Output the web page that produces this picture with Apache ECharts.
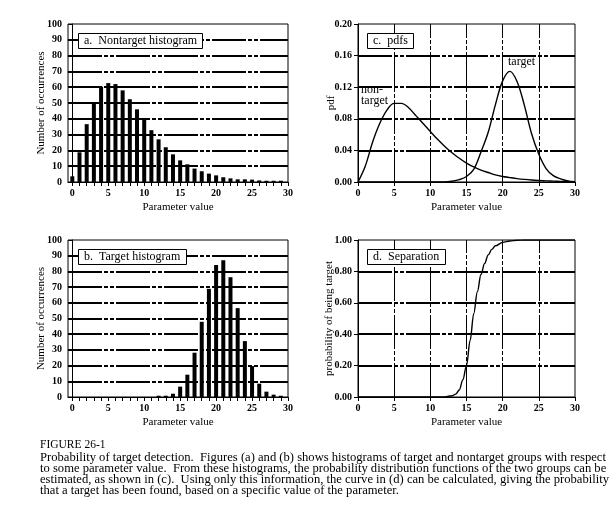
<!DOCTYPE html>
<html>
<head>
<meta charset="utf-8">
<script src="https://cdn.jsdelivr.net/npm/echarts@6/dist/echarts.min.js"></script>
<style>
html,body{margin:0;padding:0;background:#fff;}
#chart{width:615px;height:521px;}
</style>
</head>
<body>
<div id="chart"></div>
<script>
// ---- data ----
const binValues = [0,1,2,3,4,5,6,7,8,9,10,11,12,13,14,15,16,17,18,19,20,21,22,23,24,25,26,27,28,29];
const nontargetCounts = [3.6,18.8,36.6,50.3,60.3,62.6,62,58,52.4,46,40.2,32.8,27,22,17.5,13.7,11.2,8.5,6.8,5.3,4.2,3,2.3,1.7,1.7,1.5,1,0.8,0.8,0.8];
const targetCounts = [0,0,0,0,0,0,0,0,0,0,0,0,0.8,0.8,2.1,6.6,14.2,28.2,47.9,68.9,84.1,87.1,76.3,56.6,35.6,19.7,8.5,3.4,1.5,0.8];
const pdfX = [0,1,2,3,4,5,6,7,8,9,10,11,12,13,14,15,16,17,18,19,20,21,22,23,24,25,26,27,28,29,30];
const nontargetPdf = [0,0.020,0.050,0.074,0.091,0.0995,0.0995,0.094,0.084,0.074,0.064,0.054,0.045,0.037,0.030,0.024,0.019,0.015,0.012,0.009,0.007,0.0056,0.0043,0.0033,0.0025,0.0019,0.0014,0.0011,0.0008,0.0006,0.0004];
const targetPdf = [0,0,0,0,0,0,0,0,0,0,0,0,0,0.001,0.003,0.007,0.016,0.038,0.063,0.098,0.128,0.140,0.127,0.097,0.061,0.035,0.017,0.008,0.004,0.0015,0.0005];
const sepX = [0,5,10,11,12,13,13.5,14,14.5,15,15.5,16,16.5,17,17.5,18,18.5,19,20,21,22,23,25,30];
const sepProb = [0,0,0,0,0.001,0.008,0.018,0.045,0.11,0.20,0.36,0.53,0.67,0.78,0.85,0.905,0.94,0.963,0.985,0.994,0.998,1,1,1];
const histXLabels = [0,5,10,15,20,25,30];
const histXTicks = [0,1,2,3,4,5,6,7,8,9,10,11,12,13,14,15,16,17,18,19,20,21,22,23,24,25,26,27,28,29,30];
const countGridLines = [10,20,30,40,50,60,70,80,90];
const pdfGridLines = [0.04,0.08,0.12,0.16];
const sepGridLines = [0.2,0.4,0.6,0.8];
const paramGridLines = [5,10,15,20,25];

// ---- styling helpers ----
const FF = 'Liberation Serif';
const dashPattern = [34,2,4,2,4,2];
function hLines(vals){
  return {silent:true, symbol:['none','none'], animation:false, label:{show:false},
    lineStyle:{color:'#000', width:2, type:dashPattern, opacity:1},
    emphasis:{disabled:true},
    data: vals.map(v=>({yAxis:v}))};
}
function vLines(vals){
  return {silent:true, symbol:['none','none'], animation:false, label:{show:false},
    lineStyle:{color:'#000', width:1, type:dashPattern, opacity:1},
    emphasis:{disabled:true},
    data: vals.map(v=>({xAxis:v}))};
}
function panelTitle(text, left, top){
  return {text:text, left:left, top:top, padding:[1,6,1,6], backgroundColor:'#fff',
    borderColor:'#000', borderWidth:1,
    textStyle:{fontFamily:FF, fontSize:12, fontWeight:'normal', color:'#000', lineHeight:14}};
}
const labelStyle = {fontFamily:FF, fontSize:10, fontWeight:'bold', color:'#000', margin:6};
const nameStyle = {fontFamily:FF, fontSize:11, color:'#000'};
function xAxisHist(gi){
  return {gridIndex:gi, type:'value', min:-0.6, max:30,
    name:'Parameter value', nameLocation:'middle', nameGap:20, nameMoveOverlap:false, nameTextStyle:nameStyle,
    axisLine:{show:true, lineStyle:{color:'#000', width:1}},
    axisTick:{show:true, inside:false, length:4, customValues:histXTicks, lineStyle:{color:'#000'}},
    axisLabel:Object.assign({customValues:histXLabels}, labelStyle),
    splitLine:{show:false}};
}
function xAxisParam(gi){
  return {gridIndex:gi, type:'value', min:0, max:30, interval:5,
    name:'Parameter value', nameLocation:'middle', nameGap:20, nameMoveOverlap:false, nameTextStyle:nameStyle,
    axisLine:{show:true, lineStyle:{color:'#000', width:1}},
    axisTick:{show:true, length:4, lineStyle:{color:'#000'}},
    axisLabel:labelStyle, splitLine:{show:false}};
}
function yAxis(gi, max, interval, name, gap, dec){
  return {gridIndex:gi, type:'value', min:0, max:max, interval:interval,
    name:name, nameLocation:'middle', nameGap:gap, nameMoveOverlap:false, nameTextStyle:nameStyle,
    axisLine:{show:true, lineStyle:{color:'#000', width:1}},
    axisTick:{show:true, length:4, lineStyle:{color:'#000'}},
    axisLabel:Object.assign({formatter: v => dec ? v.toFixed(dec) : String(v)}, labelStyle),
    splitLine:{show:false}};
}
const gridBase = {show:true, borderColor:'#000', borderWidth:1, backgroundColor:'transparent', containLabel:false};

const chart = echarts.init(document.getElementById('chart'), null, {renderer:'canvas'});
chart.setOption({
  animation:false,
  backgroundColor:'#fff',
  title:[
    panelTitle('a.  Nontarget histogram', 78, 33),
    panelTitle('c.  pdfs', 367, 33),
    panelTitle('b.  Target histogram', 78, 249),
    panelTitle('d.  Separation', 367, 249)
  ],
  grid:[
    Object.assign({left:68, top:24, width:220, height:158}, gridBase),
    Object.assign({left:358, top:24, width:217, height:158}, gridBase),
    Object.assign({left:68, top:240, width:220, height:157}, gridBase),
    Object.assign({left:358, top:240, width:217, height:157}, gridBase)
  ],
  xAxis:[xAxisHist(0), xAxisParam(1), xAxisHist(2), xAxisParam(3)],
  yAxis:[
    yAxis(0, 100, 10, 'Number of occurrences', 21, 0),
    yAxis(1, 0.2, 0.04, 'pdf', 21, 2),
    yAxis(2, 100, 10, 'Number of occurrences', 21, 0),
    yAxis(3, 1, 0.2, 'probability of being target', 23, 2)
  ],
  series:[
    {type:'bar', xAxisIndex:0, yAxisIndex:0, barWidth:4, itemStyle:{color:'#000'},
      data: binValues.map((x,i)=>[x, nontargetCounts[i]]),
      markLine: hLines(countGridLines)},
    {type:'bar', xAxisIndex:2, yAxisIndex:2, barWidth:4, itemStyle:{color:'#000'},
      data: binValues.map((x,i)=>[x, targetCounts[i]]),
      markLine: hLines(countGridLines)},
    {type:'line', xAxisIndex:1, yAxisIndex:1, showSymbol:false, smooth:0.35,
      lineStyle:{color:'#000', width:1.4}, data: pdfX.map((x,i)=>[x, nontargetPdf[i]]),
      markLine: hLines(pdfGridLines)},
    {type:'line', xAxisIndex:1, yAxisIndex:1, showSymbol:false, smooth:0.35,
      lineStyle:{color:'#000', width:1.4}, data: pdfX.map((x,i)=>[x, targetPdf[i]]),
      markLine: vLines(paramGridLines)},
    {type:'line', xAxisIndex:3, yAxisIndex:3, showSymbol:false, smooth:0.35, smoothMonotone:'x',
      lineStyle:{color:'#000', width:1.4}, data: sepX.map((x,i)=>[x, sepProb[i]]),
      markLine: hLines(sepGridLines)},
    {type:'line', xAxisIndex:3, yAxisIndex:3, showSymbol:false, data:[], lineStyle:{opacity:0},
      markLine: vLines(paramGridLines)}
  ],
  graphic:[
    {type:'text', left:508, top:56, style:{text:'target', font:'12px "Liberation Serif"', fill:'#000'}},
    {type:'text', left:361, top:84, style:{text:'non-\ntarget', font:'12px "Liberation Serif"', fill:'#000', lineHeight:11}},
    {type:'text', left:40, top:439, style:{text:'FIGURE 26-1', font:'11.5px "Liberation Serif"', fill:'#000'}},
    {type:'text', left:40, top:451, style:{
      text:'Probability of target detection.  Figures (a) and (b) shows histograms of target and nontarget groups with respect\n' +
           'to some parameter value.  From these histograms, the probability distribution functions of the two groups can be\n' +
           'estimated, as shown in (c).  Using only this information, the curve in (d) can be calculated, giving the probability\n' +
           'that a target has been found, based on a specific value of the parameter.',
      font:'12.6px "Liberation Serif"', fill:'#000', lineHeight:11}}
  ]
});
</script>
</body>
</html>
